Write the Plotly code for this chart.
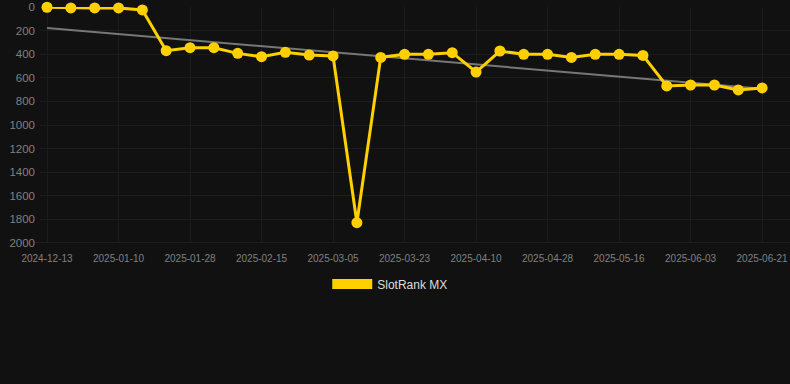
import plotly.graph_objects as go

dates = ["2024-12-13", "2024-12-22", "2025-01-01", "2025-01-10", "2025-01-16", "2025-01-22",
         "2025-01-28", "2025-02-03", "2025-02-09", "2025-02-15", "2025-02-21", "2025-02-27",
         "2025-03-05", "2025-03-11", "2025-03-17", "2025-03-23", "2025-03-29", "2025-04-04",
         "2025-04-10", "2025-04-16", "2025-04-22", "2025-04-28", "2025-05-04", "2025-05-10",
         "2025-05-16", "2025-05-22", "2025-05-28", "2025-06-03", "2025-06-09", "2025-06-15",
         "2025-06-21"]
rank = [2, 8, 8, 8, 25, 370, 345, 345, 393, 421, 384, 407, 415, 1828, 427, 401, 401, 387,
        551, 373, 401, 401, 427, 401, 401, 410, 669, 661, 661, 703, 686]
trend_dates = [dates[0], dates[-1]]
trend_vals = [178, 693]
series_name = "SlotRank MX"
tick_labels = dates[::3]

gold = "#FFD000"
fig = go.Figure()
fig.add_trace(go.Scatter(x=trend_dates, y=trend_vals, mode="lines",
                         line=dict(color="#777777", width=2), showlegend=False,
                         hoverinfo="skip"))
fig.add_trace(go.Scatter(x=dates, y=rank, mode="lines+markers",
                         line=dict(color=gold, width=3),
                         marker=dict(color=gold, size=11),
                         cliponaxis=False, showlegend=False))
fig.add_trace(go.Scatter(x=[None], y=[None], mode="lines", name=series_name,
                         line=dict(color=gold, width=11), showlegend=True))

fig.update_layout(
    width=790, height=384,
    margin=dict(l=40, r=0, t=7, b=141),
    paper_bgcolor="#111111", plot_bgcolor="#111111",
    font=dict(family="Liberation Sans, Arial, sans-serif", color="#888888"),
    legend=dict(orientation="h", x=0.467, xanchor="center", y=-0.174, yanchor="middle",
                font=dict(size=12, color="#dddddd"), itemwidth=40,
                bgcolor="rgba(0,0,0,0)"),
    xaxis=dict(type="category", categoryorder="array", categoryarray=dates,
               range=[-0.294, 31.17], tickvals=tick_labels,
               ticktext=tick_labels, showgrid=True, gridcolor="#1c1c1c", gridwidth=1,
               zeroline=False, showline=False, tickfont=dict(size=10, color="#808080"),
               ticks="", ticklabelstandoff=8),
    yaxis=dict(range=[2000, 0], tickvals=list(range(0, 2001, 200)), showgrid=True,
               gridcolor="#1c1c1c", gridwidth=1, zeroline=False, showline=False,
               tickfont=dict(size=11.5, color="#808080"), ticks="", ticklabelstandoff=4),
)
fig.add_shape(type="line", xref="paper", yref="y", x0=-0.01, x1=1, y0=2000, y1=2000,
              line=dict(color="#2a2a2a", width=1), layer="below")
fig.write_html("out.html", config={"displayModeBar": False},
               post_script="document.body.style.margin='0';document.body.style.padding='0';"
                           "document.body.style.background='#111111';")
